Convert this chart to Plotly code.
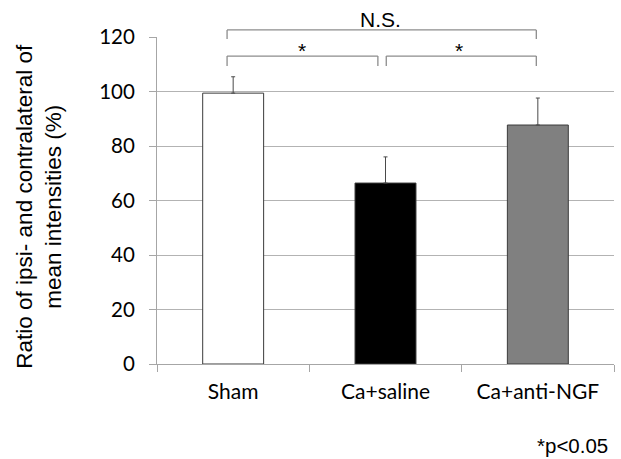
import plotly.graph_objects as go

categories = ["Sham", "Ca+saline", "Ca+anti-NGF"]
means = [99.4, 66.4, 87.7]
errors = [6.0, 9.6, 9.9]
bar_colors = ["#ffffff", "#000000", "#808080"]
y_ticks = [0, 20, 40, 60, 80, 100, 120]

# significance brackets: (x_start, x_end, top, foot)
brackets = [
    (-0.04, 1.99, 122.6, 119.3),
    (-0.04, 0.95, 113.0, 109.4),
    (1.005, 1.99, 113.0, 109.4),
]
labels = [(0.452, 114.9, "*"), (1.483, 114.9, "*"), (0.964, 126.6, "N.S.")]

YMAX = 120
fig = go.Figure()
fig.add_trace(go.Bar(
    x=categories, y=means,
    marker=dict(color=bar_colors, line=dict(color="#3a3a3a", width=1)),
    error_y=dict(type="data", symmetric=False, array=errors,
                 arrayminus=[0, 0, 0], color="#4a4a4a", thickness=1, width=2),
    width=0.4,
))

shapes = []
line_style = dict(color="#8c8c8c", width=1.3)
for x0, x1, top, foot in brackets:
    for (xa, ya, xb, yb) in [(x0, foot, x0, top), (x0, top, x1, top), (x1, top, x1, foot)]:
        shapes.append(dict(type="line", xref="x", yref="paper",
                           x0=xa, x1=xb, y0=ya / YMAX, y1=yb / YMAX, line=line_style))

annotations = []
for x, y, t in labels:
    annotations.append(dict(x=x, y=y / YMAX, xref="x", yref="paper", text=t,
                            showarrow=False, xanchor="center", yanchor="middle",
                            font=dict(family="Liberation Sans, Arial", size=21, color="#000")))
annotations.append(dict(x=-0.259, y=0.483, xref="paper", yref="paper",
                        text="Ratio of ipsi- and contralateral of<br>mean intensities (%)",
                        textangle=-90, showarrow=False, xanchor="center", yanchor="middle",
                        font=dict(family="Liberation Sans, Arial", size=22.5, color="#000")))
annotations.append(dict(x=0.991, y=-0.248, xref="paper", yref="paper", text="*p<0.05",
                        showarrow=False, xanchor="right", yanchor="middle",
                        font=dict(family="Liberation Sans, Arial", size=20.5, color="#000")))

fig.update_layout(
    width=621, height=459,
    margin=dict(l=157, r=7, t=37, b=95),
    paper_bgcolor="white", plot_bgcolor="white",
    showlegend=False,
    shapes=shapes, annotations=annotations,
    xaxis=dict(range=[-0.5, 2.5], showline=True, linecolor="#a6a6a6", linewidth=1,
               ticks="outside", tickson="boundaries", ticklen=7, tickcolor="#a6a6a6",
               showgrid=False, ticklabelstandoff=9,
               tickfont=dict(family="Lato", size=21, color="#000")),
    yaxis=dict(range=[0, YMAX], tickvals=y_ticks, showline=True, linecolor="#a6a6a6",
               linewidth=1, ticks="outside", ticklen=7, tickcolor="#a6a6a6",
               showgrid=True, gridcolor="#b3b3b3", gridwidth=1, zeroline=False,
               ticklabelstandoff=10,
               tickfont=dict(family="Lato", size=20.5, color="#000")),
)

fig.write_html("out.html")
